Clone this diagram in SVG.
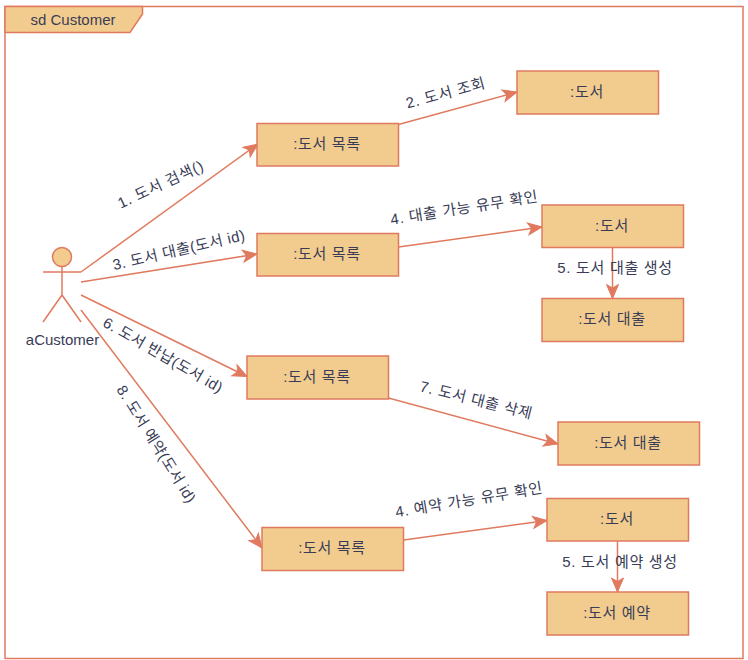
<svg xmlns="http://www.w3.org/2000/svg" width="748" height="660" viewBox="0 0 748 660">
<defs>
<marker id="arrow" markerUnits="userSpaceOnUse" markerWidth="16" markerHeight="14" refX="14" refY="6" orient="auto" overflow="visible"><path d="M0 0 L14 6 L0 12 L3.500 6 Z" fill="#E07A5F" stroke="#E07A5F" stroke-width="1"/></marker>
</defs>
<style>
text{font-family:"Liberation Sans","Noto Sans CJK KR",sans-serif;font-size:15px;fill:#393C56;text-anchor:middle}
.ko{letter-spacing:.7px}
.ks{letter-spacing:.4px}
.box{fill:#F2CC8F;stroke:#E07A5F;stroke-width:1.5}
.ln{fill:none;stroke:#E07A5F;stroke-width:1.5}
.cn{fill:none;stroke:#E07A5F;stroke-width:1.5;marker-end:url(#arrow)}
</style>
<rect width="748" height="660" fill="#fff"/>
<g id="frame">
<rect x="5" y="6.500" width="738" height="652" fill="#fff" class="ln"/>
<path d="M5 6.500 H142.500 V14 L130 32.500 H5 Z" class="box"/>
<text x="73" y="25">sd Customer</text>
</g>
<g id="connectors">
<path d="M81 272 L258 144" class="cn"/>
<path d="M398.500 124.500 L517 92" class="cn"/>
<path d="M81 282 L257 254" class="cn"/>
<path d="M398.500 247 L542 227" class="cn"/>
<path d="M612.500 248 V298.500" class="cn"/>
<path d="M81 295 L247 376.500" class="cn"/>
<path d="M388.500 398 L558 444" class="cn"/>
<path d="M81 310 L262 548" class="cn"/>
<path d="M403.500 540 L547 520.500" class="cn"/>
<path d="M617.500 541 V592" class="cn"/>
</g>
<g id="labels">
<text class="ko" transform="translate(163 189) rotate(-25)">1. 도서 검색()</text>
<text class="ko" transform="translate(447 98) rotate(-15)">2. 도서 조회</text>
<text class="ks" transform="translate(180 255) rotate(-13)">3. 도서 대출(도서 id)</text>
<text class="ko" transform="translate(465 213) rotate(-9)">4. 대출 가능 유무 확인</text>
<text class="ko" x="615" y="273">5. 도서 대출 생성</text>
<text class="ks" transform="translate(160.500 359.500) rotate(30)">6. 도서 반납(도서 id)</text>
<text class="ko" transform="translate(475 405) rotate(14)">7. 도서 대출 삭제</text>
<text class="ks" transform="translate(152 447) rotate(58)">8. 도서 예약(도서 id)</text>
<text class="ko" transform="translate(470 505) rotate(-9.500)">4. 예약 가능 유무 확인</text>
<text class="ko" x="620" y="567">5. 도서 예약 생성</text>
</g>
<g id="actor">
<circle cx="62" cy="257" r="9.500" class="box"/>
<path d="M62 266.500 V295 M43 272 H81 M62 295 L43 322 M62 295 L81 322" class="ln"/>
<text x="62.500" y="345">aCustomer</text>
</g>
<g id="n1"><rect x="257" y="123.500" width="141.500" height="42.500" class="box"/><text class="ko" x="327" y="149">:도서 목록</text></g>
<g id="n2"><rect x="517" y="71" width="141.500" height="43" class="box"/><text class="ko" x="587" y="97">:도서</text></g>
<g id="n3"><rect x="257" y="233.500" width="141.500" height="42.500" class="box"/><text class="ko" x="327" y="259">:도서 목록</text></g>
<g id="n4"><rect x="542" y="205" width="141.500" height="42.500" class="box"/><text class="ko" x="612" y="231">:도서</text></g>
<g id="n5"><rect x="542" y="298.500" width="141.500" height="43" class="box"/><text class="ko" x="612" y="324">:도서 대출</text></g>
<g id="n6"><rect x="247" y="356" width="141.500" height="43" class="box"/><text class="ko" x="317" y="382">:도서 목록</text></g>
<g id="n7"><rect x="558" y="422" width="141.500" height="43" class="box"/><text class="ko" x="628" y="448">:도서 대출</text></g>
<g id="n8"><rect x="262" y="527.500" width="141.500" height="43" class="box"/><text class="ko" x="332" y="553">:도서 목록</text></g>
<g id="n9"><rect x="547" y="498.500" width="141.500" height="42.500" class="box"/><text class="ko" x="617" y="524">:도서</text></g>
<g id="n10"><rect x="547" y="592" width="141.500" height="43" class="box"/><text class="ko" x="617" y="618">:도서 예약</text></g>
</svg>
